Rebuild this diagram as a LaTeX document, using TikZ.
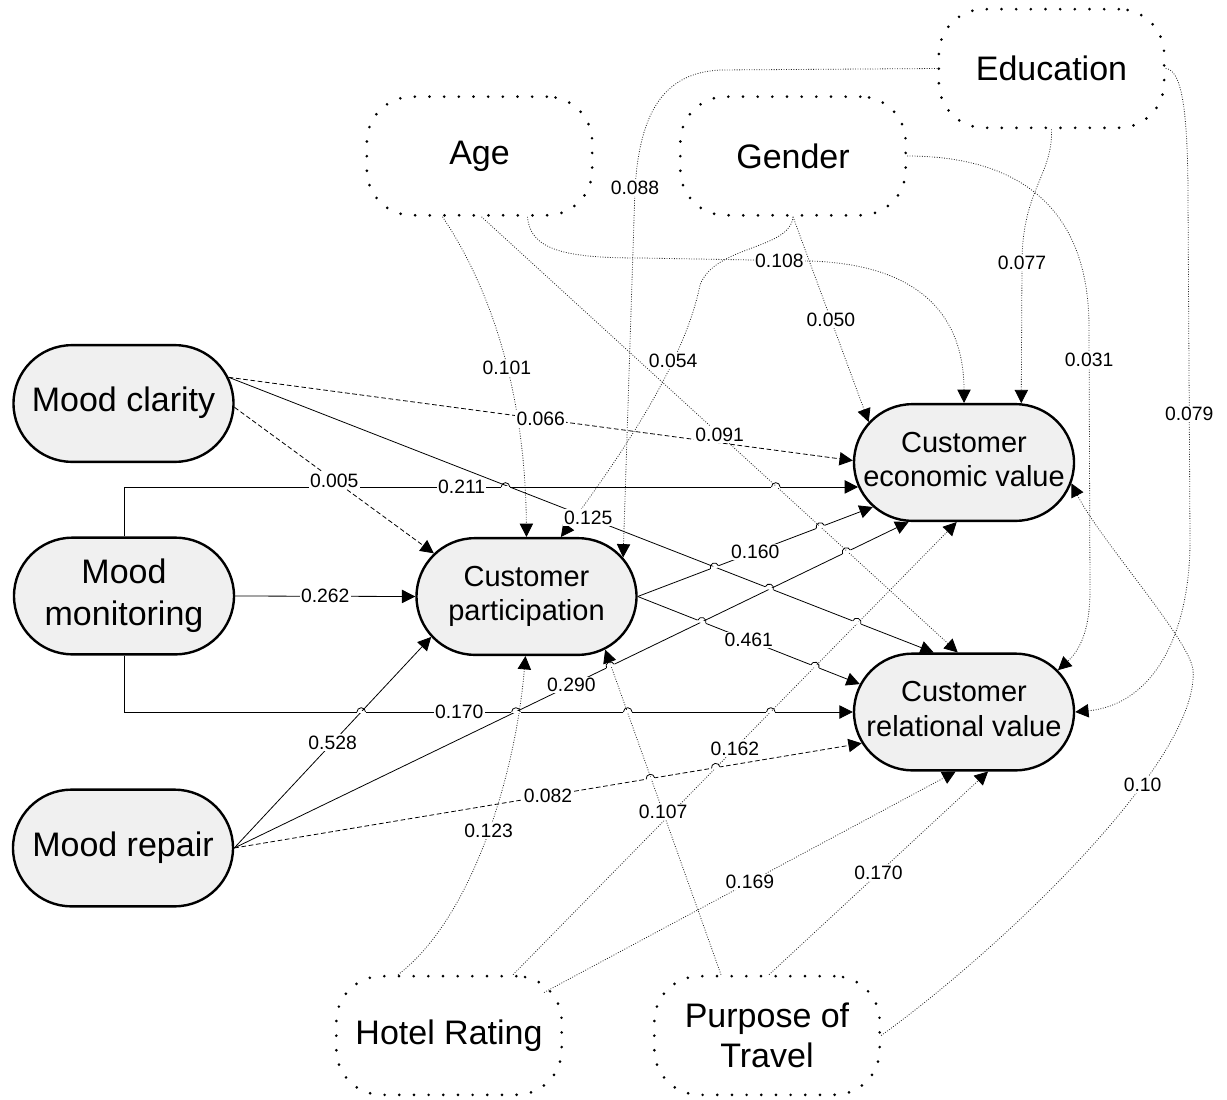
\documentclass[tikz,border=0pt]{standalone}
\usepackage{fontspec}
\setmainfont{Liberation Sans}
\usetikzlibrary{arrows.meta,shapes.misc,calc,decorations.markings}
\definecolor{boxfill}{RGB}{240,240,240}
\newcommand\hopmark{\fill[white] (-4.6,-1.3) rectangle (4.6,1.3); \draw[solid,-,black,line width=0.6pt] (-4.3,0) arc[start angle=180,end angle=360,radius=4.3];}
\newcommand\nodetxt[1]{\makebox[0pt]{\begin{tabular}{@{}c@{}}#1\end{tabular}}}
\tikzset{
  mainbox/.style={rounded rectangle, draw, line width=1.8pt, fill=boxfill, minimum width=165pt, minimum height=87.5pt, inner sep=0pt},
  moodfont/.style={font=\fontsize{25.5}{31.5}\selectfont},
  custfont/.style={font=\fontsize{21.75}{26}\selectfont},
  ctrlbox/.style={rectangle, rounded corners=34pt, draw, line width=2.2pt, dash pattern=on 0pt off 11pt, line cap=round, minimum width=169pt, minimum height=89pt, inner sep=0pt, align=center, font=\fontsize{25.5}{30}\selectfont},
  lab/.style={fill=white, inner sep=1pt, font=\fontsize{14.5}{16}\selectfont},
  conn/.style={line width=0.6pt, -{Triangle[length=10pt,width=10pt,color=black]}},
  dashp/.style={conn, dash pattern=on 3.5pt off 2pt},
  dotp/.style={conn, draw=black!85, dash pattern=on 0.65pt off 1.2pt},
  hopat/.style={postaction={decorate,decoration={markings,mark=at position #1 with {\hopmark}}}}
}
\begin{document}
\begin{tikzpicture}[x=0.75pt,y=-0.75pt]
\useasboundingbox (0,0) rectangle (1227,1099);

% main constructs
\node[mainbox, moodfont] (mc) at (123.5,403.5) {\nodetxt{Mood clarity}};
\node[mainbox, moodfont] (mm) at (124,596) {\nodetxt{Mood\\monitoring}};
\node[mainbox, moodfont] (mr) at (123,848) {\nodetxt{Mood repair}};
\node[mainbox, custfont] (cp) at (526.5,596.5) {\nodetxt{Customer\\participation}};
\node[mainbox, custfont] (cev) at (964,462.5) {\nodetxt{Customer\\economic value}};
\node[mainbox, custfont] (crv) at (964,712) {\nodetxt{Customer\\relational value}};

% control variables
\node[ctrlbox] (age) at (479.5,156) {Age};
\node[ctrlbox] (gen) at (793,156) {Gender};
\node[ctrlbox] (edu) at (1051.5,68.5) {Education};
\node[ctrlbox] (hr) at (449,1035.5) {Hotel Rating};
\node[ctrlbox] (pot) at (767,1035.5) {Purpose of\\Travel};

% dotted control paths
\draw[dotp] ($(age.south)+(-37,0)$) .. controls (485,280) and (525,380) .. (cp.north) coordinate[pos=0.58] (p101);
\draw[dotp] ($(age.south)+(2,0)$) -- (crv.96) coordinate[pos=0.5] (p091);
\draw[dotp] ($(age.south)+(48,0)$) .. controls (530,250) and (565,258) .. (640,258) -- (810,261) coordinate[pos=0.82] (p108) .. controls (935,265) and (964,330) .. (cev.north);
\draw[dotp] (gen.south) .. controls (790,250) and (715,245) .. (700,285) .. controls (685,360) and (625,450) .. (cp.60) coordinate[pos=0.32] (p054);
\draw[dotp] (gen.south) -- (cev.157) coordinate[pos=0.5] (p050);
\draw[dotp] (gen.east) .. controls (1010,156) and (1090,200) .. (1089,330) -- (1090,590) coordinate[pos=0.115] (p031) .. controls (1090,630) and (1080,650) .. (crv.24);
\draw[dotp] (edu.west) -- (720,70) .. controls (665,73) and (640,110) .. (635,188) coordinate (p088) -- (cp.22);
\draw[dotp] (edu.south) .. controls (1053,175) and (1022,190) .. (1022,263) coordinate (p077) -- (cev.46);
\draw[dotp] (edu.east) .. controls (1180,70) and (1188,100) .. (1188,200) -- (1190,540) coordinate[pos=0.63] (p079) .. controls (1190,640) and (1150,705) .. (crv.east);
\draw[dotp] ($(hr.north)+(-51,0)$) .. controls (470,920) and (515,780) .. (cp.-91) coordinate[pos=0.53] (p123);
\draw[dotp] ($(hr.north)+(64,0)$) -- (cev.-97) coordinate[pos=0.5] (p162);
\draw[dotp] ($(hr.center)+(95,-43)$) -- (crv.-98) coordinate[pos=0.5] (p169);
\draw[dotp] ($(pot.north)+(-46,0)$) -- (cp.-34) coordinate[pos=0.5] (p107);
\draw[dotp] ($(pot.north)+(2,0)$) -- (crv.-68) coordinate[pos=0.5] (p170b);
\draw[dotp] (pot.east) .. controls (1000,950) and (1200,760) .. (1193,670) coordinate[pos=0.67] (p10) .. controls (1190,640) and (1100,540) .. (cev.-11);

% solid and dashed paths
\draw[conn, hopat=0.5578, hopat=0.908] (mr.east) -- (cev.227) coordinate[pos=0.5] (p290);
\draw[conn] (mr.east) -- (cp.-157) coordinate[pos=0.5] (p528);
\draw[conn, hopat=0.767, hopat=0.891] (mc.14) -- (crv.117) coordinate[pos=0.51] (p125);
\draw[dashp] (mc.14) -- (cev.179) coordinate[pos=0.5] (p066);
\draw[dashp] (mc.-2) -- (cp.155) coordinate[pos=0.5] (p005);
\draw[conn, hopat=0.550, hopat=0.895] (mm.north) |- (cev.193) coordinate[pos=0.73] (p211);
\draw[conn] (mm.east) -- (cp.west) coordinate[pos=0.5] (p262);
\draw[conn, hopat=0.374, hopat=0.571, hopat=0.7134, hopat=0.8956] (mm.south) |- (crv.west) coordinate[pos=0.73] (p170a);
\draw[conn, hopat=0.3265, hopat=0.777] (cp.east) -- (cev.206) coordinate[pos=0.5] (p160);
\draw[conn, hopat=0.2885, hopat=0.798] (cp.east) -- (crv.165) coordinate[pos=0.5] (p461);
\draw[dashp, hopat=0.6634, hopat=0.7675] (mr.east) -- (crv.197) coordinate[pos=0.5] (p082);

% labels
\node[lab] (l101) at (p101) {0.101};
\node[lab] (l091) at (p091) {0.091};
\node[lab] (l108) at (p108) {0.108};
\node[lab] (l054) at (p054) {0.054};
\node[lab] (l050) at (p050) {0.050};
\node[lab] (l031) at (p031) {0.031};
\node[lab] (l088) at (p088) {0.088};
\node[lab] (l077) at (p077) {0.077};
\node[lab] (l079) at (p079) {0.079};
\node[lab] (l123) at (p123) {0.123};
\node[lab] (l162) at (p162) {0.162};
\node[lab] (l169) at (p169) {0.169};
\node[lab] (l107) at (p107) {0.107};
\node[lab] (l170b) at (p170b) {0.170};
\node[lab] (l10) at (p10) {0.10};
\node[lab] (l290) at (p290) {0.290};
\node[lab] (l528) at (p528) {0.528};
\node[lab] (l125) at (p125) {0.125};
\node[lab] (l066) at (p066) {0.066};
\node[lab] (l005) at (p005) {0.005};
\node[lab] (l211) at (p211) {0.211};
\node[lab] (l262) at (p262) {0.262};
\node[lab] (l170a) at (p170a) {0.170};
\node[lab] (l160) at (p160) {0.160};
\node[lab] (l461) at (p461) {0.461};
\node[lab] (l082) at (p082) {0.082};
\end{tikzpicture}
\end{document}
